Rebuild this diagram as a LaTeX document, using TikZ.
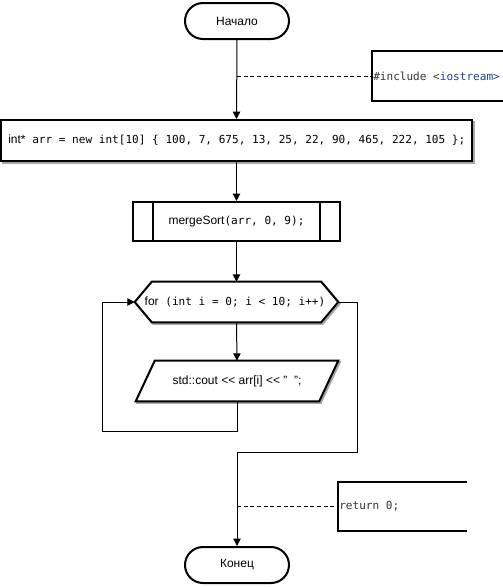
\documentclass[tikz,border=0pt]{standalone}
\usepackage{fontspec}
\setmainfont{Liberation Sans}
\newfontfamily\monof{DejaVu Sans Mono}
\usetikzlibrary{arrows.meta}
\definecolor{codeblue}{HTML}{1F3F99}
\definecolor{codegray}{HTML}{333333}
\newcommand{\sfs}{\fontsize{9}{11}\selectfont}
\newcommand{\mfs}{\monof\fontsize{8.3}{10}\selectfont}
\newcommand{\shl}{<\kern0pt<}
\tikzset{
  shape line/.style={line width=1.5pt, draw=black},
  term/.style={shape line, rectangle, rounded corners=13.5pt, minimum width=78pt, minimum height=27pt, font=\sfs, inner sep=0pt},
  procbox/.style={shape line, rectangle, inner sep=0pt},
  txt/.style={inner sep=0pt, font=\sfs},
  conn/.style={line width=0.75pt, draw=black},
  arr/.style={conn, -{Triangle[length=5.5pt,width=5.5pt]}},
  dconn/.style={line width=0.75pt, draw=black, dash pattern=on 3pt off 2pt},
  shadowed/.style={line width=1.5pt, draw=black!35},
}
\begin{document}
\begin{tikzpicture}[x=0.75pt,y=-0.75pt]
\useasboundingbox (0,0) rectangle (503,587);

% start / end
\node[term] (start) at (237,21) {Начало};
\node[term] (end) at (237,565) {Конец};

% process
\draw[shadowed] (3,122) rectangle (474,163);
\node[procbox, minimum width=353.25pt, minimum height=30.75pt, fill=white] (init) at (236.5,140.5) {};
\node[txt, anchor=west] (inittxt) at (8,140.5) {\sfs int*\mfs\ arr = new int[10] \{ 100, 7, 675, 13, 25, 22, 90, 465, 222, 105 \};};

% predefined process
\node[procbox, minimum width=155.25pt, minimum height=29.25pt] (ms) at (236.5,221.5) {\sfs mergeSort\mfs(arr, 0, 9);};
\draw[shape line] ([xshift=15.75pt]ms.north west) -- ([xshift=15.75pt]ms.south west);
\draw[shape line] ([xshift=-15.75pt]ms.north east) -- ([xshift=-15.75pt]ms.south east);

% loop hexagon
\node[txt, minimum width=152.25pt, minimum height=30pt] (loop) at (236.5,302) {};
\draw[shadowed] ([shift={(1.5,1.5)}]loop.west) -- ([shift={(18.5,1.5)}]loop.north west) -- ([shift={(-15.5,1.5)}]loop.north east) -- ([shift={(1.5,1.5)}]loop.east) -- ([shift={(-15.5,1.5)}]loop.south east) -- ([shift={(18.5,1.5)}]loop.south west) -- cycle;
\draw[shape line, fill=white] (loop.west) -- ([xshift=12.75pt]loop.north west) -- ([xshift=-12.75pt]loop.north east) -- (loop.east) -- ([xshift=-12.75pt]loop.south east) -- ([xshift=12.75pt]loop.south west) -- cycle;
\node[txt] (looptxt) at (235,302) {\sfs for\mfs\ (int i = 0; i < 10; i++)};

% output parallelogram
\node[txt, minimum width=151.5pt, minimum height=30pt] (out) at (237,381) {};
\draw[shadowed] ([shift={(20.5,1.5)}]out.north west) -- ([shift={(1.5,1.5)}]out.north east) -- ([shift={(-17.5,1.5)}]out.south east) -- ([shift={(1.5,1.5)}]out.south west) -- cycle;
\draw[shape line, fill=white] ([xshift=14.25pt]out.north west) -- (out.north east) -- ([xshift=-14.25pt]out.south east) -- (out.south west) -- cycle;
\node[txt] (outtxt) at (237,381) {std::cout \shl\ arr[i] \shl\ "\ \ ";};

% comments
\draw[shape line] (503,51) -- (372,51) -- (372,101) -- (503,101);
\node[txt, anchor=west] (inc) at (373,76) {\mfs\color{codegray}\#include <\color{codeblue}iostream>};
\draw[shape line] (467,482) -- (338,482) -- (338,531) -- (467,531);
\node[txt, anchor=west] (ret) at (339,506) {\mfs\color{codegray}return 0;};

% connectors
\coordinate (d1) at (237,76);
\coordinate (d2) at (237,506);
\draw[arr] (start.south) -- (init.north);
\draw[dconn] (d1) -- (inc.west);
\draw[arr] (init.south) -- (ms.north);
\draw[arr] (ms.south) -- (loop.north);
\draw[arr] (loop.south) -- (out.north);
\coordinate (lb) at (102,431);
\draw[arr] (out.south) |- (lb) |- (loop.west);
\coordinate (re) at (357.5,452);
\draw[arr] (loop.east) -| (re) -| (end.north);
\draw[dconn] (d2) -- (ret.west);
\end{tikzpicture}
\end{document}
